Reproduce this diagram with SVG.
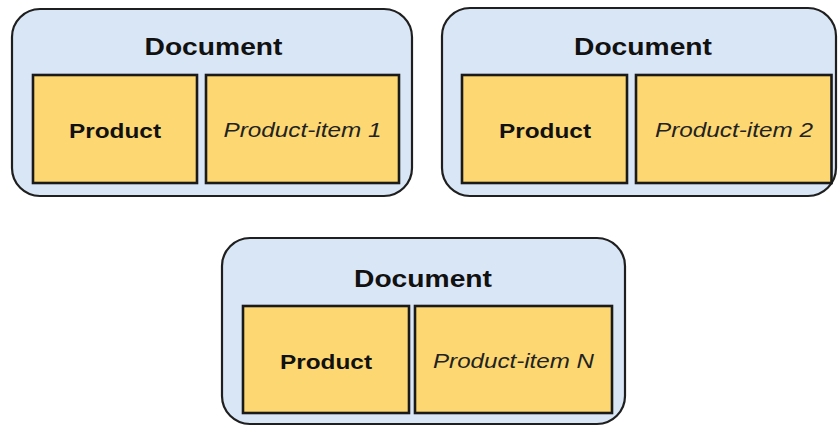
<svg xmlns="http://www.w3.org/2000/svg" width="839" height="427" viewBox="0 0 839 427">
  <style>
    .doc { fill: #d9e6f6; stroke: #1f1f1f; stroke-width: 2.2; }
    .cell { fill: #fdd872; stroke: #1a1a1a; stroke-width: 2.6; }
    .title { font-family: "Liberation Sans", Arial, sans-serif; font-weight: bold; font-size: 24px; fill: #111; text-anchor: middle; }
    .prod { font-family: "Liberation Sans", Arial, sans-serif; font-weight: bold; font-size: 21px; fill: #111; text-anchor: middle; }
    .item { font-family: "Liberation Sans", Arial, sans-serif; font-style: italic; font-size: 21px; fill: #222; text-anchor: middle; }
  </style>
  <rect width="839" height="427" fill="#ffffff"/>

  <!-- Document 1 -->
  <g id="doc1">
    <rect class="doc" x="12" y="9" width="400" height="187" rx="28" ry="28"/>
    <text class="title" x="213.5" y="55" textLength="138" lengthAdjust="spacingAndGlyphs">Document</text>
    <g id="doc1-product">
      <rect class="cell" x="33" y="75" width="164" height="108"/>
      <text class="prod" x="115" y="137.5" textLength="92" lengthAdjust="spacingAndGlyphs">Product</text>
    </g>
    <g id="doc1-item">
      <rect class="cell" x="206" y="75" width="193" height="108"/>
      <text class="item" x="302.5" y="137" textLength="158" lengthAdjust="spacingAndGlyphs">Product-item 1</text>
    </g>
  </g>

  <!-- Document 2 -->
  <g id="doc2">
    <rect class="doc" x="442" y="8" width="394" height="188" rx="28" ry="28"/>
    <text class="title" x="643" y="55" textLength="138" lengthAdjust="spacingAndGlyphs">Document</text>
    <g id="doc2-product">
      <rect class="cell" x="462" y="75" width="165" height="108"/>
      <text class="prod" x="545" y="137.5" textLength="92" lengthAdjust="spacingAndGlyphs">Product</text>
    </g>
    <g id="doc2-item">
      <rect class="cell" x="636" y="75" width="195.5" height="108"/>
      <text class="item" x="734" y="137" textLength="158" lengthAdjust="spacingAndGlyphs">Product-item 2</text>
    </g>
  </g>

  <!-- Document N -->
  <g id="docN">
    <rect class="doc" x="222" y="238" width="403" height="186" rx="28" ry="28"/>
    <text class="title" x="423" y="287" textLength="138" lengthAdjust="spacingAndGlyphs">Document</text>
    <g id="docN-product">
      <rect class="cell" x="243" y="306" width="166" height="107"/>
      <text class="prod" x="326" y="368.5" textLength="92" lengthAdjust="spacingAndGlyphs">Product</text>
    </g>
    <g id="docN-item">
      <rect class="cell" x="415" y="306" width="197" height="107"/>
      <text class="item" x="513.5" y="368" textLength="161" lengthAdjust="spacingAndGlyphs">Product-item N</text>
    </g>
  </g>

  <!-- no connectors in this figure -->
  <g id="connectors"/>
</svg>
